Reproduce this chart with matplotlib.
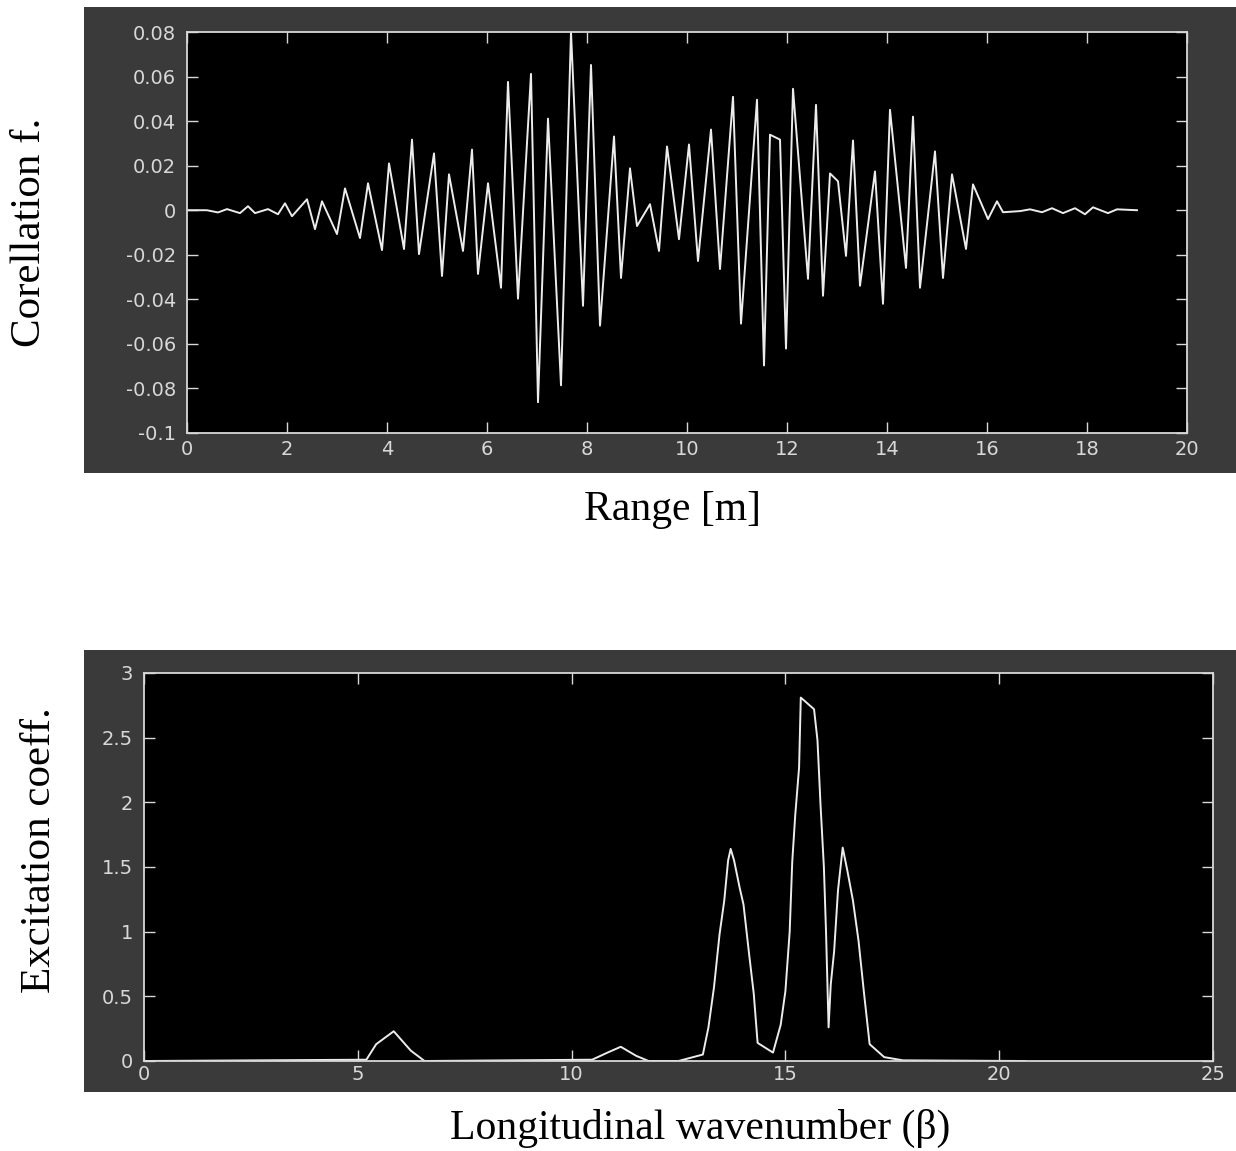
import matplotlib
matplotlib.use("Agg")
import matplotlib.pyplot as plt
from matplotlib.patches import Rectangle


# Top panel: correlation function vs range (extrema).
range_m = [0.00, 0.40, 0.62, 0.80, 1.06, 1.22, 1.36, 1.62, 1.82, 1.96,
           2.10, 2.40, 2.56, 2.70, 3.00, 3.16, 3.46, 3.62, 3.90, 4.04,
           4.34, 4.50, 4.64, 4.94, 5.10, 5.24, 5.52, 5.70, 5.82, 6.02,
           6.28, 6.42, 6.62, 6.88, 7.02, 7.22, 7.48, 7.68, 7.92, 8.08,
           8.26, 8.54, 8.68, 8.86, 9.00, 9.26, 9.44, 9.60, 9.84, 10.04,
           10.22, 10.48, 10.66, 10.92, 11.08, 11.40, 11.54, 11.66, 11.86, 11.98,
           12.12, 12.42, 12.58, 12.72, 12.86, 13.02, 13.18, 13.32, 13.46, 13.76,
           13.92, 14.06, 14.38, 14.52, 14.66, 14.96, 15.12, 15.30, 15.58, 15.72,
           16.02, 16.20, 16.32, 16.66, 16.86, 17.10, 17.30, 17.52, 17.76, 17.96,
           18.12, 18.42, 18.60, 19.00]
corr = [0.0, 0.0, -0.001, 0.0005, -0.0013, 0.0018, -0.0013, 0.0005, -0.0018, 0.0031,
        -0.0027, 0.0049, -0.0085, 0.0040, -0.0107, 0.0098, -0.0125, 0.0121, -0.0179, 0.0210,
        -0.0174, 0.0317, -0.0197, 0.0255, -0.0295, 0.0161, -0.0183, 0.0272, -0.0286, 0.0121,
        -0.0348, 0.0576, -0.0397, 0.0612, -0.0862, 0.0411, -0.0786, 0.0800, -0.0429, 0.0652,
        -0.0518, 0.0331, -0.0304, 0.0188, -0.0071, 0.0027, -0.0183, 0.0286, -0.0130, 0.0295,
        -0.0228, 0.0362, -0.0264, 0.0509, -0.0509, 0.0496, -0.0697, 0.0339, 0.0317, -0.0621,
        0.0545, -0.0308, 0.0473, -0.0384, 0.0165, 0.0130, -0.0205, 0.0313, -0.0339, 0.0174,
        -0.0420, 0.0451, -0.0259, 0.0420, -0.0348, 0.0264, -0.0304, 0.0161, -0.0174, 0.0116,
        -0.0040, 0.0040, -0.0009, -0.0004, 0.0004, -0.0009, 0.0009, -0.0013, 0.0009, -0.0018,
        0.0013, -0.0013, 0.0004, 0.0]

# Bottom panel: excitation coefficient vs longitudinal wavenumber.
beta = [0.0, 5.20, 5.43, 5.84, 6.24, 6.56, 10.48, 10.84, 11.15, 11.51,
        11.80, 12.50, 13.07, 13.20, 13.33, 13.46, 13.57, 13.66, 13.72, 13.80,
        13.93, 14.02, 14.15, 14.26, 14.35, 14.71, 14.89, 15.00, 15.10, 15.16,
        15.23, 15.32, 15.36, 15.67, 15.75, 15.82, 15.90, 15.95, 16.01, 16.06,
        16.14, 16.23, 16.34, 16.45, 16.58, 16.71, 16.84, 16.97, 17.31, 17.75,
        20.60]
excit = [0.0, 0.01, 0.13, 0.23, 0.08, 0.0, 0.01, 0.065, 0.11, 0.04,
         0.0, 0.0, 0.05, 0.26, 0.57, 0.98, 1.24, 1.55, 1.64, 1.55,
         1.34, 1.21, 0.83, 0.52, 0.14, 0.065, 0.28, 0.54, 1.0, 1.54,
         1.90, 2.27, 2.81, 2.72, 2.48, 1.99, 1.50, 1.0, 0.26, 0.59,
         0.85, 1.32, 1.65, 1.47, 1.24, 0.93, 0.52, 0.13, 0.03, 0.005,
         0.0]

top_xticks = [0, 2, 4, 6, 8, 10, 12, 14, 16, 18, 20]
top_yticks = [-0.1, -0.08, -0.06, -0.04, -0.02, 0, 0.02, 0.04, 0.06, 0.08]
top_ylabels = ["-0.1", "-0.08", "-0.06", "-0.04", "-0.02", "0",
               "0.02", "0.04", "0.06", "0.08"]
bot_xticks = [0, 5, 10, 15, 20, 25]
bot_yticks = [0, 0.5, 1, 1.5, 2, 2.5, 3]
bot_ylabels = ["0", "0.5", "1", "1.5", "2", "2.5", "3"]

W, H = 1236, 1151
panel_grey = "#3a3a3a"
fg = "#d8d8d8"

fig = plt.figure(figsize=(W / 100, H / 100), dpi=100)
fig.patch.set_facecolor("white")

# Grey MATLAB-style figure panels behind each axes.
fig.patches.append(Rectangle((84 / W, 1 - 473 / H), 1152 / W, 466 / H,
                             transform=fig.transFigure, facecolor=panel_grey,
                             edgecolor="none", zorder=-5))
fig.patches.append(Rectangle((84 / W, 1 - 1092 / H), 1152 / W, 442 / H,
                             transform=fig.transFigure, facecolor=panel_grey,
                             edgecolor="none", zorder=-5))


def style_axes(ax, xpad, ypad):
    ax.set_facecolor("black")
    for s in ax.spines.values():
        s.set_color(fg)
        s.set_linewidth(1.3)
    ax.tick_params(direction="in", length=8, width=1.0, color=fg,
                   top=True, right=True, labelcolor=fg, labelsize=14)
    ax.tick_params(axis="x", pad=xpad)
    ax.tick_params(axis="y", pad=ypad)


ax1 = fig.add_axes([187 / W, 1 - 433 / H, 1000 / W, 401 / H])
ax1.plot(range_m, corr, color="#ececec", lw=1.4)
ax1.set_xlim(0, 20)
ax1.set_ylim(-0.1, 0.08)
ax1.set_xticks(top_xticks)
ax1.set_yticks(top_yticks)
ax1.set_yticklabels(top_ylabels)
style_axes(ax1, 5, 8)

ax2 = fig.add_axes([144 / W, 1 - 1061 / H, 1069 / W, 388 / H])
ax2.plot(beta, excit, color="#ececec", lw=1.4)
ax2.set_xlim(0, 25)
ax2.set_ylim(0, 3)
ax2.set_xticks(bot_xticks)
ax2.set_yticks(bot_yticks)
ax2.set_yticklabels(bot_ylabels)
style_axes(ax2, 3, 8)

serif = ["Liberation Serif", "DejaVu Serif"]
fig.text(30 / W, 1 - 232 / H, "Corellation f.", rotation=90, ha="center",
         va="center", fontsize=31, family=serif, color="black")
fig.text(672 / W, 1 - 510 / H, "Range [m]", ha="center", va="center",
         fontsize=30, family=serif, color="black")
fig.text(40 / W, 1 - 850 / H, "Excitation coeff.", rotation=90, ha="center",
         va="center", fontsize=31, family=serif, color="black")
fig.text(700 / W, 1 - 1128 / H, "Longitudinal wavenumber (β)", ha="center",
         va="center", fontsize=30, family=serif, color="black")

fig.savefig("out.png", dpi=100, facecolor="white")
